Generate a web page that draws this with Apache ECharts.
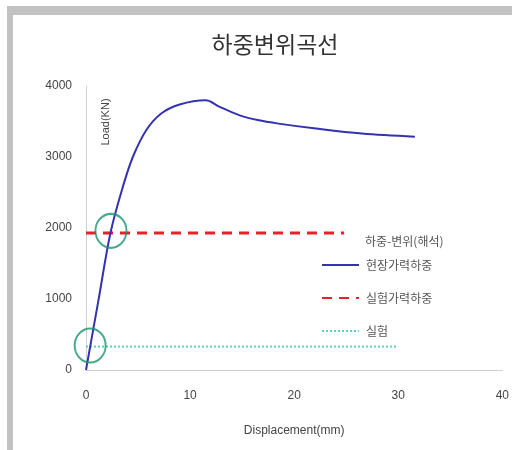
<!DOCTYPE html>
<html>
<head>
    <meta charset="utf-8">
    <script src="https://cdn.jsdelivr.net/npm/echarts@6/dist/echarts.min.js"></script>
    <style>
        html, body { margin: 0; padding: 0; background: #fff; }
    </style>
</head>
<body>
<div id="main" style="width: 512px;height:450px;"></div>
<script>
    // 하중-변위 곡선 데이터 (displacement mm, load kN)
    var loadCurve = [
        [0, 0], [1.2, 985], [2.35, 1930], [3.5, 2560], [4.5, 3000],
        [5.8, 3380], [7.2, 3610], [9.0, 3740], [11.5, 3800], [12.8, 3710],
        [14.7, 3590], [16.5, 3520], [18.5, 3470], [22.1, 3400], [26.5, 3330], [31.6, 3285]
    ];
    var testLoad = [[0, 1930], [24.8, 1930]];     // 실험가력하중
    var testLine = [[0, 330], [29.8, 330]];       // 실험
    var circles = [[2.4, 1960], [0.4, 345]];
    var legendNames = ['현장가력하중', '실험가력하중', '실험'];
    var xTicks = [0, 10, 20, 30, 40];

    var myChart = echarts.init(document.getElementById('main'));

    var option = {
        backgroundColor: '#fff',
        animation: false,
        title: {
            text: '하중변위곡선',
            left: 270,
            textAlign: 'center',
            top: 28,
            textStyle: {
                fontFamily: 'Noto Sans CJK KR',
                fontSize: 23,
                fontWeight: 'normal',
                color: '#333'
            }
        },
        graphic: [
            { type: 'rect', shape: { x: 7, y: 6, width: 505, height: 9 }, style: { fill: '#c2c2c2' } },
            { type: 'rect', shape: { x: 7, y: 6, width: 6, height: 444 }, style: { fill: '#c2c2c2' } },
            {
                type: 'text', x: 106, y: 122, rotation: Math.PI / 2,
                style: { text: 'Load(KN)', fill: '#444', font: '11px "Liberation Sans"', align: 'center', verticalAlign: 'middle' }
            },
            {
                type: 'text', x: 365, y: 241,
                style: { text: '하중-변위(해석)', fill: '#555', font: '12px "Noto Sans CJK KR"', verticalAlign: 'middle' }
            }
        ],
        legend: {
            data: legendNames,
            orient: 'vertical',
            left: 316,
            top: 254,
            itemWidth: 37,
            itemHeight: 12,
            itemGap: 21,
            itemStyle: { opacity: 0 },
            textStyle: { fontFamily: 'Noto Sans CJK KR', fontSize: 12, color: '#555', padding: [6, 0, 0, 2] }
        },
        grid: { left: 86, right: 9, top: 86, bottom: 80 },
        xAxis: {
            type: 'value',
            min: 0, max: 40, interval: 10,
            name: 'Displacement(mm)',
            nameLocation: 'middle',
            nameGap: 55,
            nameTextStyle: { fontFamily: 'Liberation Sans', fontSize: 12, color: '#444' },
            axisLine: { lineStyle: { color: '#cfcfcf', width: 1 } },
            axisTick: { show: false },
            splitLine: { show: false },
            axisLabel: {
                margin: 20, fontFamily: 'Liberation Sans', fontSize: 12, color: '#444',
                formatter: function (v) { return xTicks.indexOf(v) >= 0 ? String(v) : ''; }
            }
        },
        yAxis: {
            type: 'value',
            min: 0, max: 4000, interval: 1000,
            axisLine: { show: true, lineStyle: { color: '#cfcfcf', width: 1 } },
            axisTick: { show: false },
            splitLine: { show: false },
            axisLabel: {
                margin: 14, fontFamily: 'Liberation Sans', fontSize: 12, color: '#444',
                formatter: function (v) { return String(v); }
            }
        },
        series: [
            {
                name: '현장가력하중',
                type: 'line',
                data: loadCurve,
                smooth: 0.35,
                symbol: 'none',
                lineStyle: { color: '#3333b0', width: 2 },
                itemStyle: { color: '#3333b0' },
                z: 3
            },
            {
                name: '실험가력하중',
                type: 'line',
                data: testLoad,
                symbol: 'none',
                lineStyle: { color: '#e8202a', width: 3, type: [10, 7] },
                itemStyle: { color: '#e8202a' },
                z: 2
            },
            {
                name: '실험',
                type: 'line',
                data: testLine,
                symbol: 'none',
                lineStyle: { color: '#5cd0bd', width: 2, type: [2, 2] },
                itemStyle: { color: '#5cd0bd' },
                z: 2
            },
            {
                type: 'scatter',
                data: circles,
                symbol: 'circle',
                symbolSize: [31, 34],
                itemStyle: { color: 'rgba(0,0,0,0)', borderColor: '#1a9470', borderWidth: 2 },
                silent: true,
                z: 4
            }
        ]
    };
    myChart.setOption(option);
</script>
</body>
</html>
